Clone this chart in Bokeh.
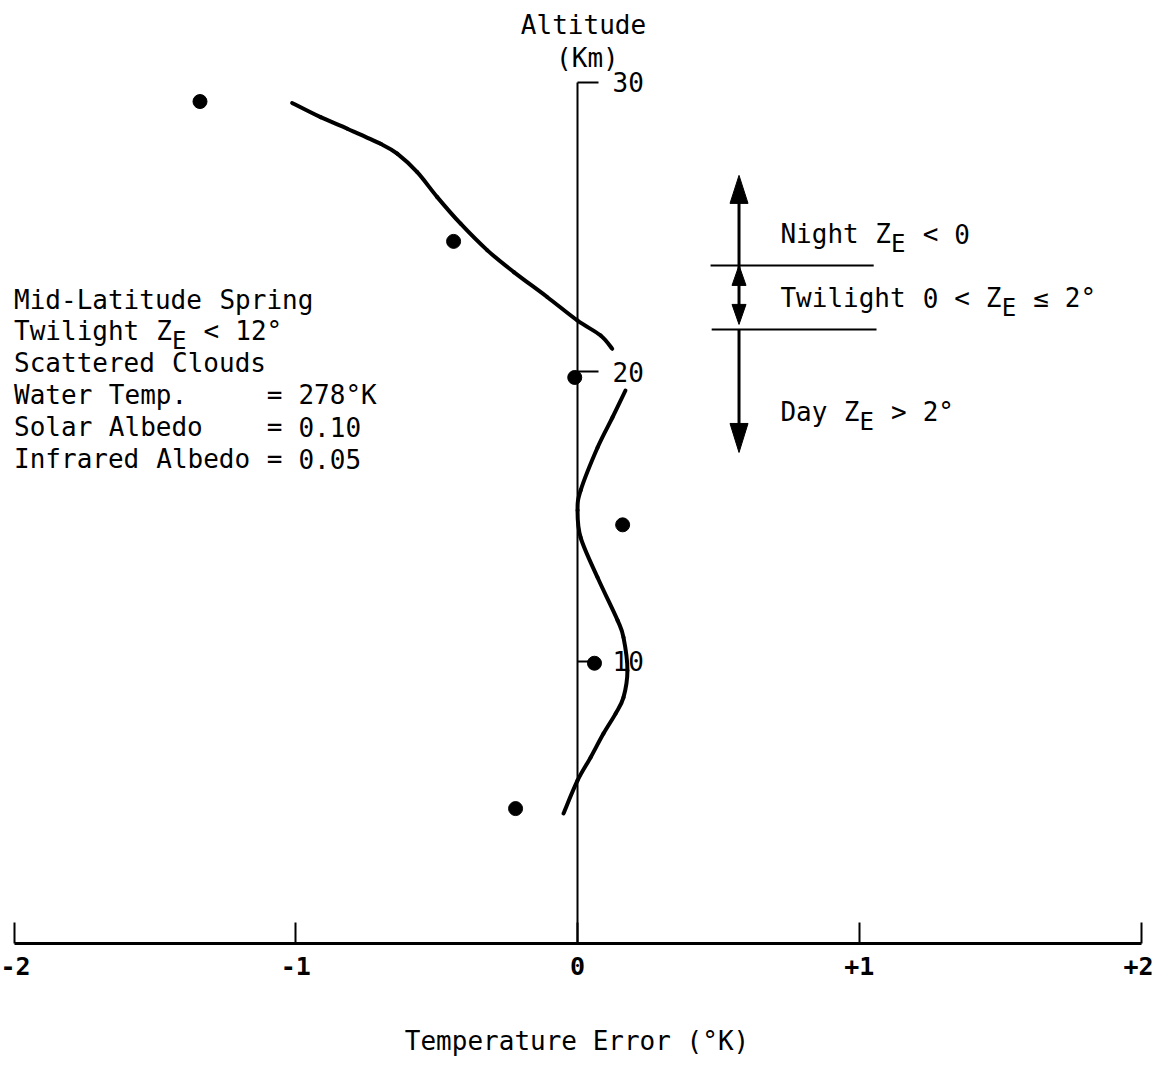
from bokeh.plotting import figure
from bokeh.models import LinearAxis, FixedTicker, Range1d
from bokeh.core.properties import value
from bokeh.embed import file_html
from bokeh.resources import INLINE
import re

# ---------------- data ----------------
dot_err = [-1.34, -0.44, -0.01, 0.16, 0.06, -0.22]
dot_alt = [29.34, 24.51, 19.81, 14.72, 9.94, 4.92]

upper_err = [-1.013, -0.912, -0.817, -0.699, -0.640, -0.569, -0.498, -0.415, -0.320,
             -0.226, -0.108, -0.001, 0.082, 0.123]
upper_alt = [29.29, 28.80, 28.40, 27.88, 27.54, 26.90, 26.04, 25.12, 24.20,
             23.45, 22.59, 21.78, 21.26, 20.80]

lower_err = [0.170, 0.124, 0.071, 0.011, 0.0, 0.011, 0.071, 0.142, 0.163, 0.177,
             0.163, 0.135, 0.092, 0.046, 0.0, -0.050]
lower_alt = [19.36, 18.43, 17.39, 15.91, 15.22, 14.28, 12.9, 11.42, 10.83, 9.69,
             8.76, 8.20, 7.51, 6.68, 5.89, 4.75]

x_ticks = [-2, -1, 0, 1, 2]
x_tick_labels = ["-2", "-1", "0", "+1", "+2"]
alt_ticks = [10, 20, 30]

# regime bands (altitude, km) for the Night / Twilight / Day indicator
regime_top = 26.79
regime_bounds = [23.68, 21.47]
regime_bottom = 17.22

info_lines = [
    [("Mid-Latitude Spring", False)],
    [("Twilight Z", False), ("E", True), (" < 12°", False)],
    [("Scattered Clouds", False)],
    [("Water Temp.     = 278°K", False)],
    [("Solar Albedo    = 0.10", False)],
    [("Infrared Albedo = 0.05", False)],
]
regime_lines = [
    [("Night Z", False), ("E", True), (" < 0", False)],
    [("Twilight 0 < Z", False), ("E", True), (" ≤ 2°", False)],
    [("Day Z", False), ("E", True), (" > 2°", False)],
]

# ---------------- layout ----------------
FW, FH = 1153, 943
X_START, X_END = -2.048, 2.044
Y_START, Y_END = 0.26, 32.83
PX_X = FW / (X_END - X_START)    # px per unit of error
PX_Y = FH / (Y_END - Y_START)    # px per km
FONT_NAME = "DejaVu Sans Mono"
FONT = value(FONT_NAME)
FS = 26
CHAR_DX = 15.8 / PX_X
SUB_DY = 10 / PX_Y
BASE_FIX = 9 / PX_Y

p = figure(frame_width=FW, frame_height=FH,
           x_range=Range1d(X_START, X_END), y_range=Range1d(Y_START, Y_END),
           output_backend="svg", toolbar_location=None, min_border=0,
           y_axis_location=None, x_axis_location="below")
p.grid.visible = False
p.outline_line_color = None
p.background_fill_color = "white"
p.border_fill_color = "white"

xa = p.xaxis[0]
xa.ticker = FixedTicker(ticks=x_ticks)
xa.major_label_overrides = {t: l for t, l in zip(x_ticks, x_tick_labels)}
xa.bounds = (x_ticks[0], x_ticks[-1])
xa.major_tick_in = 21
xa.major_tick_out = 0
xa.minor_tick_in = 0
xa.minor_tick_out = 0
xa.axis_line_width = 3
xa.axis_line_color = "black"
xa.major_tick_line_width = 2
xa.major_tick_line_color = "black"
xa.major_label_text_font = FONT_NAME
xa.major_label_text_font_size = "25px"
xa.major_label_text_font_style = "bold"
xa.major_label_text_color = "black"
xa.major_label_standoff = 13
xa.axis_label = "Temperature Error (°K)"
xa.axis_label_text_font = FONT_NAME
xa.axis_label_text_font_size = "26px"
xa.axis_label_text_font_style = "normal"
xa.axis_label_text_color = "black"
xa.axis_label_standoff = 48

ya = LinearAxis(fixed_location=0, ticker=FixedTicker(ticks=alt_ticks),
                bounds=(Y_START, alt_ticks[-1]))
ya.major_tick_out = 21
ya.major_tick_in = 0
ya.minor_tick_in = 0
ya.minor_tick_out = 0
ya.axis_line_width = 2
ya.axis_line_color = "black"
ya.major_tick_line_width = 2
ya.major_tick_line_color = "black"
ya.major_label_standoff = 14
ya.major_label_text_font = FONT_NAME
ya.major_label_text_font_size = "26px"
ya.major_label_text_color = "black"
p.add_layout(ya, "right")

# smooth curve through the read points (Catmull-Rom drawn as cubic Beziers)
def smooth(xs, ys):
    n = len(xs)
    P = list(zip(xs, ys))
    x0, y0, x1, y1, cx0, cy0, cx1, cy1 = ([] for _ in range(8))
    for i in range(n - 1):
        pm = P[i - 1] if i > 0 else P[i]
        pa, pb = P[i], P[i + 1]
        pn = P[i + 2] if i + 2 < n else P[i + 1]
        x0.append(pa[0]); y0.append(pa[1]); x1.append(pb[0]); y1.append(pb[1])
        cx0.append(pa[0] + (pb[0] - pm[0]) / 6); cy0.append(pa[1] + (pb[1] - pm[1]) / 6)
        cx1.append(pb[0] - (pn[0] - pa[0]) / 6); cy1.append(pb[1] - (pn[1] - pa[1]) / 6)
    p.bezier(x0=x0, y0=y0, x1=x1, y1=y1, cx0=cx0, cy0=cy0, cx1=cx1, cy1=cy1,
             line_width=4, line_color="black", line_cap="round")

smooth(upper_err, upper_alt)
smooth(lower_err, lower_alt)
p.scatter(dot_err, dot_alt, size=14, marker="circle", fill_color="black", line_color="black")

# rich text helper (monospace grid, subscripts); each word placed on its own
def rich(lines, x0, y0, dy):
    nx, ny, nt, sx, sy, st = [], [], [], [], [], []
    for i, pieces in enumerate(lines):
        yb = y0 - i * dy + BASE_FIX
        n = 0
        for txt, sub in pieces:
            for m in re.finditer(r"\S+", txt):
                xx = x0 + (n + m.start()) * CHAR_DX
                if sub:
                    sx.append(xx); sy.append(yb - SUB_DY); st.append(m.group())
                else:
                    nx.append(xx); ny.append(yb); nt.append(m.group())
            n += len(txt)
    p.text(nx, ny, text=nt, text_font=FONT, text_font_size=f"{FS}px",
           text_baseline="alphabetic", text_align="left", text_color="black")
    if st:
        p.text(sx, sy, text=st, text_font=FONT, text_font_size="24px",
               text_baseline="alphabetic", text_align="left", text_color="black")

rich(info_lines, -2.0, 22.19, 31.8 / PX_Y)
rich(regime_lines[:2], 0.72, 24.44, (307 - 243) / PX_Y)
rich(regime_lines[2:], 0.72, 18.32, 0)

# axis title
p.text([0.021, 0.035], [31.69 + BASE_FIX, 30.52 + BASE_FIX], text=["Altitude", "(Km)"],
       text_font=FONT, text_font_size=f"{FS}px", text_baseline="alphabetic",
       text_align="center", text_color="black")

# regime indicator
AX = 0.573
p.segment([0.472, 0.476], regime_bounds, [1.051, 1.061], regime_bounds,
          line_width=2, line_color="black")

def head(x, tip, direction, length_px, width_px):
    w = width_px / 2 / PX_X
    l = length_px / PX_Y * direction
    return [x - w, x, x + w], [tip - l, tip, tip - l]

heads = [head(AX, regime_top, 1, 28, 18),
         head(AX, regime_bounds[0], 1, 20, 14),
         head(AX, regime_bounds[1] + 5 / PX_Y, -1, 20, 14),
         head(AX, regime_bottom, -1, 29, 18)]
p.patches([h[0] for h in heads], [h[1] for h in heads], fill_color="black", line_color="black")
p.segment([AX, AX, AX], [regime_bounds[0], regime_bounds[0], regime_bounds[1]],
          [AX, AX, AX], [regime_top - 20 / PX_Y, regime_bounds[1] + 10 / PX_Y, regime_bottom + 20 / PX_Y],
          line_width=3, line_color="black")

open("out.html", "w").write(file_html(p, INLINE))
